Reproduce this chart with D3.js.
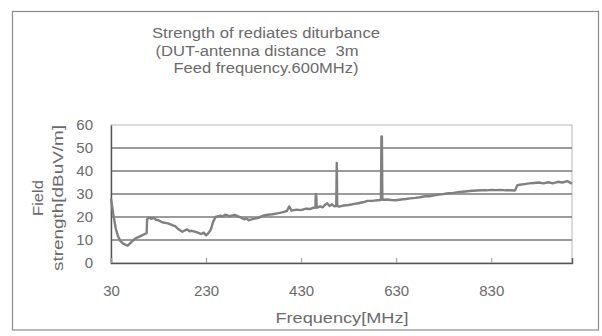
<!DOCTYPE html>
<html>
<head>
<meta charset="utf-8">
<script src="https://cdn.jsdelivr.net/npm/d3@7"></script>
<style>
  body { margin: 0; background: #fff; }
  text { font-family: "Liberation Sans", "DejaVu Sans", sans-serif; fill: #6a6a6a; white-space: pre; }
</style>
</head>
<body>
<div id="chart"></div>
<script>
// chart data
var titleLines = ["Strength of rediates diturbance", "(DUT-antenna distance  3m", "Feed frequency.600MHz)"];
var titleWidths = [228, 203, 185];
var yLabelLines = ["Field", "strength[dBuV/m]"];
var xLabel = "Frequency[MHz]";
var xTicks = [30, 230, 430, 630, 830];
var yTicks = [0, 10, 20, 30, 40, 50, 60];

var freqs = [30, 35, 40, 45, 50, 55, 60, 65, 70, 75, 80, 85, 90, 95, 100, 105, 106,
  110, 115, 120, 125, 130, 135, 140, 150, 160, 165, 170, 180, 190, 195, 200, 210, 220, 225, 230, 235, 240, 245, 250,
  260, 265, 270, 280, 290, 300, 310, 315, 320, 330, 340, 350, 360, 370, 380, 390, 400, 405, 410, 415,
  420, 430, 440, 450, 455, 460, 461, 462, 463, 470, 475, 480, 485, 490, 495, 500, 504, 505, 506,
  510, 520, 530, 540, 550, 560, 570, 580, 590, 598, 599, 600, 601, 602, 610, 620, 630, 640,
  650, 660, 670, 680, 690, 700, 710, 720, 730, 740, 750, 760, 770, 780, 790, 800, 810, 820,
  830, 840, 850, 860, 870, 880, 885, 890, 900, 910, 920, 930, 940, 950, 960, 970, 980, 990, 1000];
var fieldStrength = [28, 21, 15, 11.5, 9.5, 8.5, 8, 7.5, 8.5, 9.5, 10.5, 11, 11.5, 12, 12.5, 13, 19,
  19.8, 19.2, 19.6, 18.8, 18.6, 18, 17.6, 17.2, 16.4, 16, 15, 13.6, 14.6, 13.8, 14, 13.4, 12.6, 13.2, 12, 13, 14.5, 18, 20,
  20.6, 20.2, 21, 20.4, 20.9, 20.1, 19, 19.4, 18.6, 19.2, 19.6, 20.6, 21, 21.2, 21.6, 22, 22.6, 24.6, 22.8, 23,
  23.2, 23, 23.6, 23.5, 24, 24, 30, 29, 24, 24.6, 24.2, 25.2, 26, 24.8, 25.5, 24.6, 24.8, 43.5, 24.8,
  24.5, 25, 25.2, 25.6, 26, 26.4, 27, 27, 27.3, 27.4, 55, 55, 27.6, 27.5, 27.6, 27.4, 27.3, 27.6,
  27.8, 28.1, 28.3, 28.6, 29, 29, 29.4, 29.8, 30, 30.3, 30.5, 30.8, 31, 31.2, 31.4, 31.5, 31.6, 31.6,
  31.8, 31.7, 31.8, 31.6, 31.6, 31.5, 33.8, 34, 34.3, 34.6, 34.8, 35, 34.6, 35.1, 34.6, 35.3, 35, 35.6, 34.5];

var data = freqs.map(function(f, i) { return { f: f, v: fieldStrength[i] }; });

var svgWidth = 602, svgHeight = 336;
var plot = { left: 111, right: 572, top: 125, bottom: 263 };

var svg = d3.select("#chart").append("svg")
  .attr("width", svgWidth)
  .attr("height", svgHeight);

// outer frame
svg.append("rect")
  .attr("x", 12.5).attr("y", 11.5)
  .attr("width", 586).attr("height", 318.5)
  .attr("fill", "#fff")
  .attr("stroke", "#8a8a8a")
  .attr("stroke-width", 1.2);

var x = d3.scaleLinear().domain([30, 1000]).range([plot.left, plot.right]);
var y = d3.scaleLinear().domain([0, 60]).range([plot.bottom, plot.top]);

// plot area border (light)
svg.append("rect")
  .attr("x", plot.left).attr("y", plot.top)
  .attr("width", plot.right - plot.left).attr("height", plot.bottom - plot.top)
  .attr("fill", "none")
  .attr("stroke", "#c4c4c4")
  .attr("stroke-width", 1.2);

// gridlines
svg.append("g")
  .selectAll("line")
  .data(yTicks.filter(function(d) { return d > 0 && d < 60; }))
  .enter()
  .append("line")
  .attr("x1", plot.left).attr("x2", plot.right)
  .attr("y1", function(d) { return y(d); })
  .attr("y2", function(d) { return y(d); })
  .attr("stroke", "#7a7a7a")
  .attr("stroke-width", 1.3);

// y axis
var yAxis = svg.append("g")
  .attr("transform", "translate(" + plot.left + ",0)")
  .call(d3.axisLeft(y).tickValues(yTicks).tickSize(0).tickPadding(18));
yAxis.select(".domain").attr("stroke", "#555").attr("stroke-width", 1.4);
yAxis.selectAll("text").attr("font-size", 15).style("fill", "#6a6a6a");

// x axis
var xAxis = svg.append("g")
  .attr("transform", "translate(0," + plot.bottom + ")")
  .call(d3.axisBottom(x).tickValues(xTicks).tickSize(-5).tickPadding(22));
xAxis.select(".domain").attr("stroke", "#555").attr("stroke-width", 1.4);
xAxis.selectAll(".tick line").attr("stroke", "#999");
xAxis.selectAll("text").attr("font-size", 15).style("fill", "#6a6a6a");

// trace
var line = d3.line()
  .x(function(d) { return x(d.f); })
  .y(function(d) { return y(d.v); });

svg.append("path")
  .datum(data)
  .attr("fill", "none")
  .attr("stroke", "#808080")
  .attr("stroke-width", 2.4)
  .attr("stroke-linejoin", "round")
  .attr("d", line);

// title
svg.append("g")
  .selectAll("text")
  .data(titleLines)
  .enter()
  .append("text")
  .attr("x", function(d, i) { return [266, 257, 266][i]; })
  .attr("y", function(d, i) { return 38 + i * 17.5; })
  .attr("text-anchor", "middle")
  .attr("font-size", 14)
  .attr("textLength", function(d, i) { return titleWidths[i]; })
  .attr("lengthAdjust", "spacingAndGlyphs")
  .text(function(d) { return d; });

// y axis title
svg.append("g")
  .selectAll("text")
  .data(yLabelLines)
  .enter()
  .append("text")
  .attr("transform", function(d, i) { return "translate(" + (43 + i * 20) + ",198) rotate(-90)"; })
  .attr("text-anchor", "middle")
  .attr("font-size", 15)
  .attr("textLength", function(d, i) { return [36, 146][i]; })
  .attr("lengthAdjust", "spacingAndGlyphs")
  .text(function(d) { return d; });

// x axis title
svg.append("text")
  .attr("x", 342)
  .attr("y", 323)
  .attr("text-anchor", "middle")
  .attr("font-size", 15)
  .attr("textLength", 133)
  .attr("lengthAdjust", "spacingAndGlyphs")
  .text(xLabel);
</script>
</body>
</html>
